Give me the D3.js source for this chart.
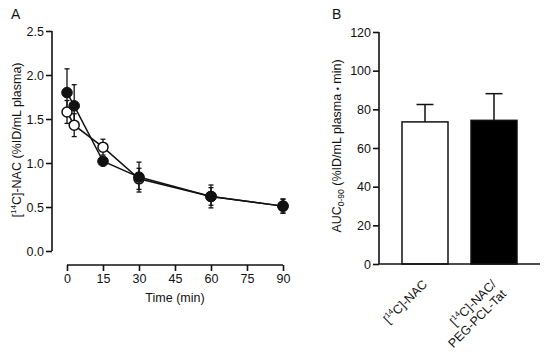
<!DOCTYPE html>
<html><head><meta charset="utf-8">
<script src="https://cdn.jsdelivr.net/npm/d3@7"></script>
<style>body{margin:0;background:#fff}svg{font-family:"Liberation Sans",Arial,sans-serif}</style>
</head><body><svg id="c" width="550" height="356"></svg>
<script>
const times = [0, 3, 15, 30, 60, 90];
const filledMean = [1.80, 1.65, 1.02, 0.84, 0.62, 0.51];
const filledErr  = [0.27, 0.24, 0.03, 0.17, 0.13, 0.08];
const openMean   = [1.58, 1.43, 1.18, 0.82, 0.62, 0.51];
const openErr    = [0.13, 0.13, 0.09, 0.12, 0.10, 0.08];
const xTicksA = [0, 15, 30, 45, 60, 75, 90];
const yTicksA = [0.0, 0.5, 1.0, 1.5, 2.0, 2.5];
const categories = ["[14C]-NAC", "[14C]-NAC/PEG-PCL-Tat"];
const aucMean = [73.5, 74.3];
const aucErr = [9.0, 13.8];
const barFill = ["#ffffff", "#000000"];
const yTicksB = [0, 20, 40, 60, 80, 100, 120];

const svg = d3.select("#c");
const ink = "#111";
const fs = 12.5;

// Panel A
const xA = d3.scaleLinear().domain([0, 90]).range([67, 283]);
const yA = d3.scaleLinear().domain([0, 2.5]).range([251, 31]);
const gA = svg.append("g");
const yAxA = gA.append("g").attr("transform", "translate(52,0)")
  .call(d3.axisLeft(yA).tickValues(yTicksA).tickFormat(d3.format(".1f")).tickSize(6).tickPadding(2).tickSizeOuter(0));
const xAxA = gA.append("g").attr("transform", "translate(0,265)")
  .call(d3.axisBottom(xA).tickValues(xTicksA).tickSize(6).tickPadding(3).tickSizeOuter(0));
[yAxA, xAxA].forEach(a => {
  a.selectAll("path,line").attr("stroke", ink).attr("stroke-width", 1.6);
  a.selectAll("text").attr("font-size", fs).attr("fill", ink);
});
yAxA.select(".domain").attr("d", `M0,${yA(2.5)}V${yA(0)}`);
xAxA.select(".domain").attr("d", `M${xA(0)},0H${xA(90)}`);

gA.append("text").attr("x", 175).attr("y", 302).attr("text-anchor", "middle")
  .attr("font-size", fs).attr("fill", ink).text("Time (min)");
const ylA = gA.append("text").attr("transform", "translate(21,140) rotate(-90)")
  .attr("text-anchor", "middle").attr("font-size", fs).attr("fill", ink);
ylA.append("tspan").text("[");
ylA.append("tspan").attr("font-size", 8).attr("dy", -5).text("14");
ylA.append("tspan").attr("dy", 5).text("C]-NAC (%ID/mL plasma)");
gA.append("text").attr("x", 11).attr("y", 19).attr("font-size", 14).attr("fill", ink).text("A");

const line = d3.line().x(d => xA(d[0])).y(d => yA(d[1]));
const fData = times.map((t, i) => [t, filledMean[i], filledErr[i]]);
const oData = times.map((t, i) => [t, openMean[i], openErr[i]]);
gA.append("path").datum(oData).attr("d", line).attr("fill", "none").attr("stroke", ink).attr("stroke-width", 1.5);
gA.append("path").datum(fData).attr("d", line).attr("fill", "none").attr("stroke", ink).attr("stroke-width", 1.5);

function errBars(data) {
  const g = gA.append("g").attr("stroke", ink).attr("stroke-width", 1.3);
  data.forEach(d => {
    const x = xA(d[0]), y1 = yA(d[1] + d[2]), y2 = yA(d[1] - d[2]);
    g.append("line").attr("x1", x).attr("x2", x).attr("y1", y1).attr("y2", y2);
    g.append("line").attr("x1", x - 2.5).attr("x2", x + 2.5).attr("y1", y1).attr("y2", y1);
    g.append("line").attr("x1", x - 2.5).attr("x2", x + 2.5).attr("y1", y2).attr("y2", y2);
  });
}
errBars(oData);
errBars(fData);
gA.append("g").selectAll("circle").data(oData).join("circle")
  .attr("cx", d => xA(d[0])).attr("cy", d => yA(d[1])).attr("r", 5)
  .attr("fill", "#fff").attr("stroke", ink).attr("stroke-width", 1.5);
gA.append("g").selectAll("circle").data(fData).join("circle")
  .attr("cx", d => xA(d[0])).attr("cy", d => yA(d[1])).attr("r", 5.3)
  .attr("fill", ink).attr("stroke", ink).attr("stroke-width", 1);

// Panel B
const xB = d3.scaleBand().domain(categories).range([379, 540]).paddingInner(1 / 3).paddingOuter(1 / 3);
const yB = d3.scaleLinear().domain([0, 120]).range([264, 32]);
const gB = svg.append("g");
const yAxB = gB.append("g").attr("transform", "translate(379,0)")
  .call(d3.axisLeft(yB).tickValues(yTicksB).tickSize(6).tickPadding(2).tickSizeOuter(0));
yAxB.selectAll("path,line").attr("stroke", ink).attr("stroke-width", 1.6);
yAxB.selectAll("text").attr("font-size", fs).attr("fill", ink);
yAxB.select(".domain").attr("d", `M0,${yB(120)}V${yB(0)}`);

categories.forEach((c, i) => {
  const cx = xB(c) + xB.bandwidth() / 2;
  const yt = yB(aucMean[i] + aucErr[i]);
  gB.append("line").attr("x1", cx).attr("x2", cx).attr("y1", yt).attr("y2", yB(aucMean[i]))
    .attr("stroke", ink).attr("stroke-width", 1.5);
  gB.append("line").attr("x1", cx - 8.5).attr("x2", cx + 8.5).attr("y1", yt).attr("y2", yt)
    .attr("stroke", ink).attr("stroke-width", 1.5);
});
gB.selectAll("rect").data(categories).join("rect")
  .attr("x", d => xB(d)).attr("width", xB.bandwidth())
  .attr("y", (d, i) => yB(aucMean[i])).attr("height", (d, i) => yB(0) - yB(aucMean[i]))
  .attr("fill", (d, i) => barFill[i]).attr("stroke", ink).attr("stroke-width", 1.5);
gB.append("line").attr("x1", 379).attr("x2", 540).attr("y1", yB(0)).attr("y2", yB(0))
  .attr("stroke", ink).attr("stroke-width", 1.6);

function catLabel(g, lines) {
  lines.forEach((ln, j) => {
    const t = g.append("text").attr("text-anchor", "end").attr("font-size", 12.5).attr("fill", ink)
      .attr("dy", (j * 1.12) + "em");
    if (ln.startsWith("[14C]")) {
      t.append("tspan").text("[");
      t.append("tspan").attr("font-size", 8).attr("dy", -5).text("14");
      t.append("tspan").attr("dy", 5).text(ln.slice(3));
    } else t.text(ln);
  });
}
const lab1 = gB.append("g").attr("transform", `translate(${xB(categories[0]) + xB.bandwidth() / 2 + 3},285) rotate(-45)`);
catLabel(lab1, ["[14C]-NAC"]);
const lab2 = gB.append("g").attr("transform", `translate(${xB(categories[1]) + xB.bandwidth() / 2 + 3},285) rotate(-45)`);
catLabel(lab2, ["[14C]-NAC/", "PEG-PCL-Tat"]);

const ylB = gB.append("text").attr("transform", "translate(341,146) rotate(-90)")
  .attr("text-anchor", "middle").attr("font-size", fs).attr("fill", ink);
ylB.append("tspan").text("AUC");
ylB.append("tspan").attr("font-size", 8.5).attr("dy", 3).text("0-90");
ylB.append("tspan").attr("dy", -3).text(" (%ID/mL plasma ");
ylB.append("tspan").attr("font-size", 9).text("\u2022");
ylB.append("tspan").text(" min)");
gB.append("text").attr("x", 332).attr("y", 18.5).attr("font-size", 14).attr("fill", ink).text("B");
</script></body></html>
